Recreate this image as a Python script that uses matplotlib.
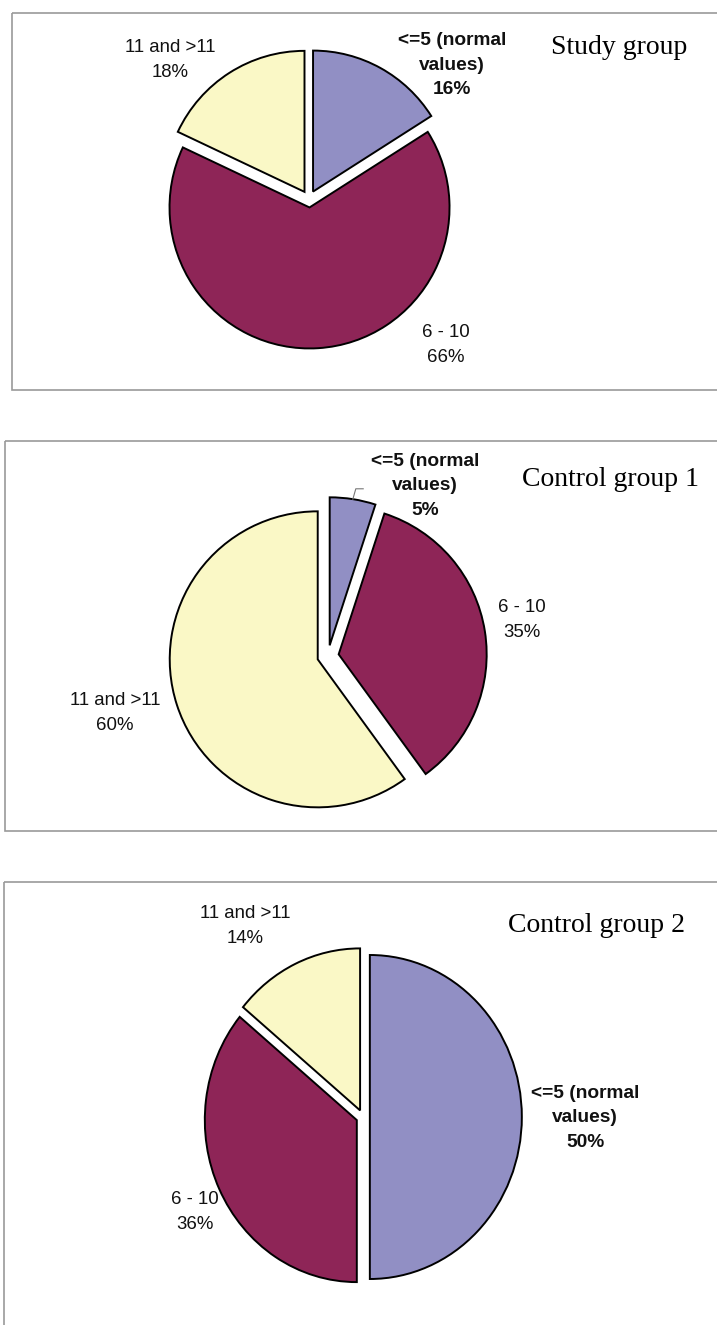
import numpy as np
import matplotlib
matplotlib.use("Agg")
import matplotlib.pyplot as plt
from matplotlib.patches import Rectangle

# category order as plotted, clockwise from 12 o'clock
cats = ["<=5 (normal\nvalues)", "6 - 10", "11 and >11"]
colors = ["#918fc4", "#8e2557", "#faf8c6"]

study = [16, 66, 18]
control1 = [5, 35, 60]
control2 = [50, 36, 14]

titles = ["Study group", "Control group 1", "Control group 2"]

W, H = 717, 1325
fig = plt.figure(figsize=(W / 100, H / 100), dpi=100)

# overlay axes in pixel units for frames and text
bg = fig.add_axes([0, 0, 1, 1], zorder=0)
bg.set_xlim(0, W)
bg.set_ylim(H, 0)
bg.axis("off")

sans = "Liberation Sans"
serif = "Liberation Serif"


def pie_axes(cx, cy, rx, ry, pad=1.35):
    ax = fig.add_axes([(cx - pad * rx) / W, (H - cy - pad * ry) / H,
                       2 * pad * rx / W, 2 * pad * ry / H], zorder=1)
    ax.axis("off")
    ax.patch.set_alpha(0)
    return ax


def draw_pie(ax, vals, expl):
    ax.pie(vals, colors=colors, startangle=90, counterclock=False,
           explode=[expl] * len(vals), radius=1,
           wedgeprops=dict(edgecolor="black", linewidth=1.4))
    ax.set_xlim(-1.35, 1.35)
    ax.set_ylim(-1.35, 1.35)
    ax.set_aspect("auto")


def label(x, y, txt, bold=False):
    bg.text(x, y, txt, ha="center", va="center",
            fontsize=13.8 if bold else 13.4, family=sans,
            fontweight="bold" if bold else "normal",
            linespacing=1.55, color="#111111")


def pct(v):
    return f"{v}%"


# frames
for x0, y0, y1 in [(12, 13, 390), (5, 441, 831), (4, 882, 1340)]:
    bg.add_patch(Rectangle((x0, y0), W + 10 - x0, y1 - y0, fill=False,
                           edgecolor="#9a9a9a", linewidth=1.2))

# study group
ax1 = pie_axes(309, 199, 140, 141)
draw_pie(ax1, study, 0.06)
label(452, 65, cats[0] + "\n" + pct(study[0]), bold=True)
label(446, 345, cats[1] + "\n" + pct(study[1]))
label(170, 60, cats[2] + "\n" + pct(study[2]))
bg.text(619, 47, titles[0], ha="center", va="center", fontsize=20,
        family=serif)

# control group 1
ax2 = pie_axes(328, 656, 148, 148)
draw_pie(ax2, control1, 0.073)
label(425, 486, cats[0] + "\n" + pct(control1[0]), bold=True)
label(522, 620, cats[1] + "\n" + pct(control1[1]))
label(115, 713, cats[2] + "\n" + pct(control1[2]))
bg.text(610, 480, titles[1], ha="center", va="center", fontsize=20,
        family=serif)

# leader line from the small slice to its label
mid = np.deg2rad(90 - 360 * control1[0] / sum(control1) / 2)
r0 = 1.073
px, py = r0 * np.cos(mid), r0 * np.sin(mid)
ax2.plot([px, px + 0.02, px + 0.07], [py, py + 0.07, py + 0.07],
         color="#777777", linewidth=0.8, clip_on=False)

# control group 2
ax3 = pie_axes(363, 1117, 152, 162)
draw_pie(ax3, control2, 0.045)
label(585, 1118, cats[0] + "\n" + pct(control2[0]), bold=True)
label(195, 1212, cats[1] + "\n" + pct(control2[1]))
label(245, 926, cats[2] + "\n" + pct(control2[2]))
bg.text(596, 925, titles[2], ha="center", va="center", fontsize=20,
        family=serif)

fig.savefig("out.png", dpi=100)
